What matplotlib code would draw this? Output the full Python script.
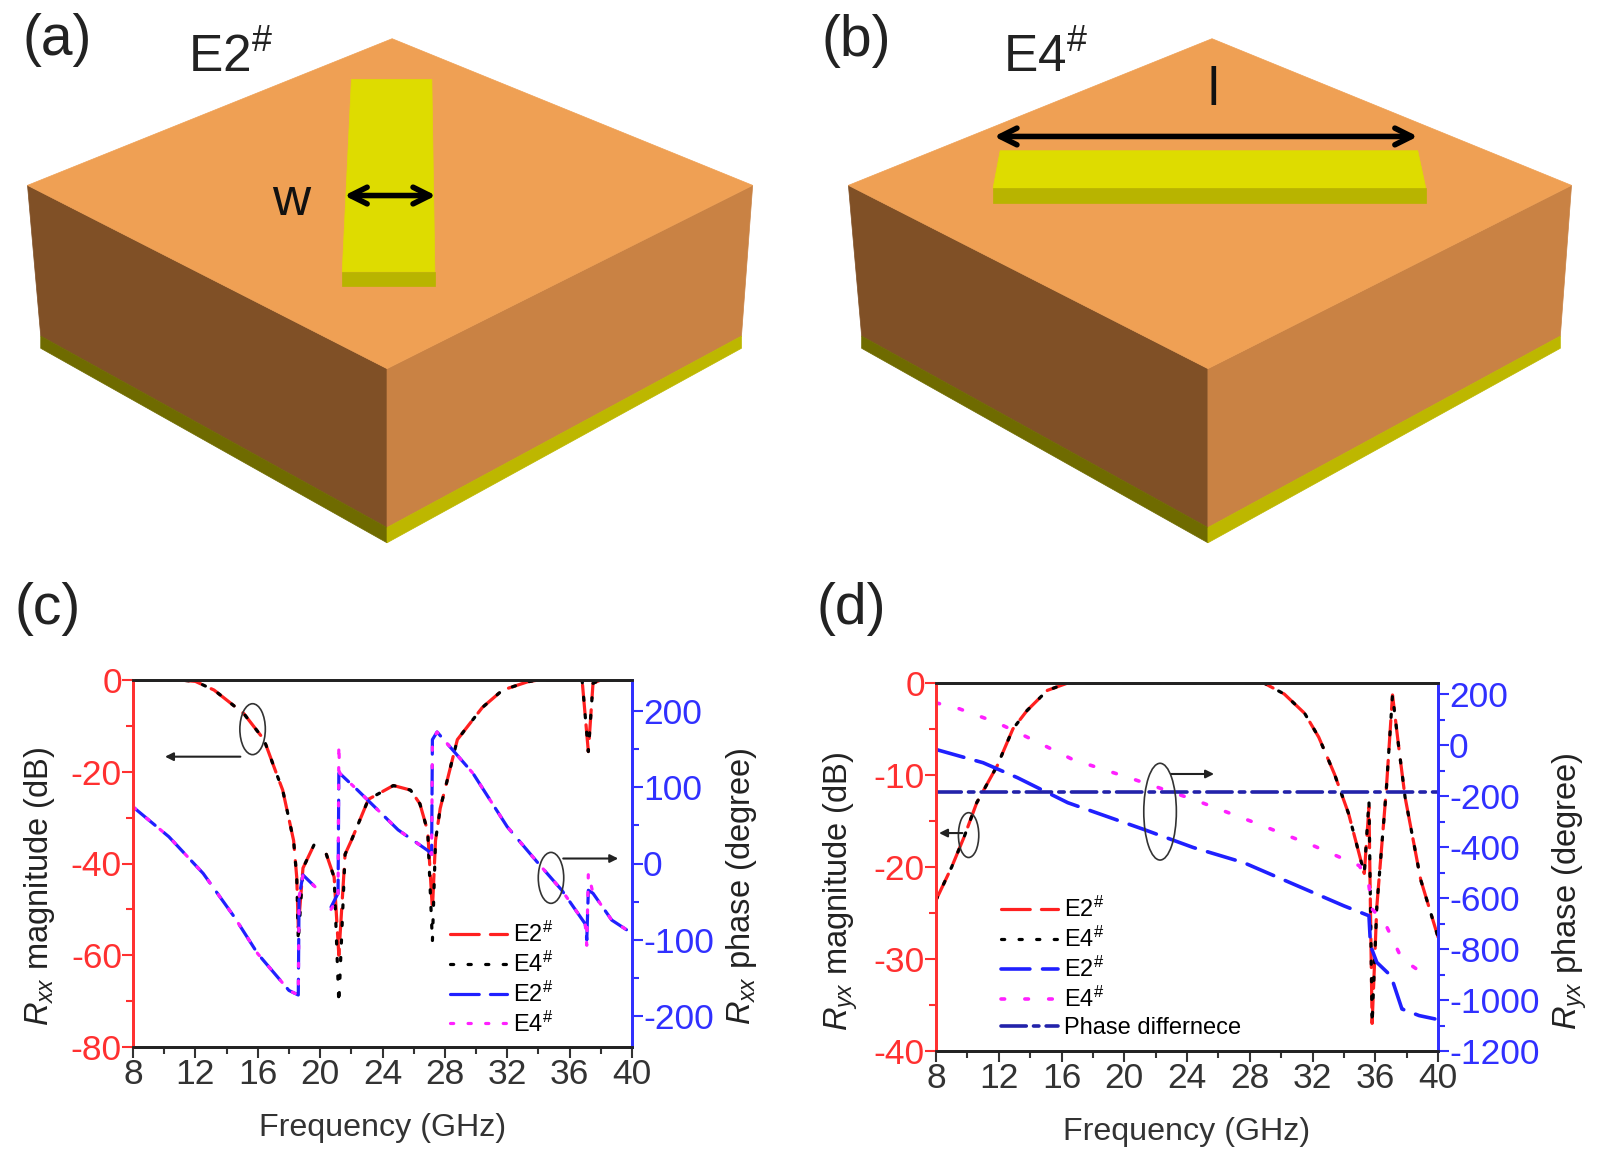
import numpy as np
import matplotlib
matplotlib.use('Agg')
import matplotlib.pyplot as plt
from matplotlib.patches import Polygon, Ellipse
from matplotlib.ticker import MultipleLocator

plt.rcParams['font.family'] = ['Liberation Sans', 'DejaVu Sans']
plt.rcParams['mathtext.fontset'] = 'custom'
plt.rcParams['mathtext.rm'] = 'Liberation Sans'
plt.rcParams['mathtext.it'] = 'Liberation Sans:italic'
plt.rcParams['mathtext.default'] = 'regular'
plt.rcParams['axes.unicode_minus'] = False
plt.rcParams['lines.dash_capstyle'] = 'round'

# panel (c), magnitude in dB
c_mag_freq = [8, 11, 12, 13.2, 15.1, 16.4, 17.2, 17.6, 18.3, 18.5, 18.6, 18.9, 19.6, np.nan, 20.4, 20.9, 21.2, 21.6,
              22, 23.1, 24.7, 25.8, 26.4, 26.9, 27.2, 27.4, 27.7, 28.8, 30.4, 31.7, 33.3, 34, 36.8, 37.2, 37.5, 38, 40]
c_mag_e2 = [0, 0, -0.3, -2.2, -7.3, -13, -20.4, -24, -35, -43, -54, -41, -36, np.nan, -38, -43, -60, -38,
            -35, -26, -23, -24, -27, -33, -50, -35, -28, -13, -6, -2.2, -0.4, 0, 0, -15.6, -0.7, 0, 0]
c_mag_e4 = [0, 0, -0.3, -2.2, -7.3, -13, -20.4, -24, -35, -43, -57, -41, -36, np.nan, -38, -43, -70.5, -38,
            -35, -26, -23, -24, -27, -33, -57, -35, -28, -13, -6, -2.2, -0.4, 0, 0, -15.6, -0.7, 0, 0]

# panel (c), phase in degree
c_ph_freq = [8, 10.3, 12.5, 14.5, 16, 18, 18.6, 18.65, 18.9, 19.9, np.nan, 20.7, 21.15, 21.2, 21.25, 22.4, 25, 26.9,
             27.15, 27.2, 27.5, 29.8, 32, 34, 35.5, 37, 37.1, 37.2, 37.5, 38.7, 39.9]
c_ph_e2 = [74, 35, -13, -70, -118, -166, -172, -44, -15, -35, np.nan, -57, -39, 118, 118, 96, 44, 17,
           12, 162, 172, 118, 48, 0, -35, -79, -100, -35, -39, -74, -90]
c_ph_e4 = [74, 35, -13, -70, -118, -166, -172, -44, -15, -35, np.nan, -60, -45, 155, 118, 96, 44, 17,
           12, 162, 172, 118, 48, 0, -35, -79, -107, -13, -39, -74, -90]

# panel (d), magnitude in dB
d_mag_freq = [8, 9, 9.8, 10.6, 11.9, 12.9, 13.8, 15.1, 16.4, 28.9, 30.2, 31.5, 32.4, 33.4, 34.3, 35.3, 35.6, 35.8,
              36.1, 36.7, 37.1, 37.5, 37.9, 38.9, 40]
d_mag_e2 = [-23.6, -20, -16.7, -13, -9, -5, -3, -0.8, 0, 0, -1.2, -3.3, -5.9, -9.9, -14.2, -20.7, -13.5, -37,
            -24.3, -11.7, -1.3, -7, -12.4, -21.4, -27.6]
d_mag_e4 = [-23.6, -20, -16.7, -13, -9, -5, -3, -0.8, 0, 0, -1.2, -3.3, -5.9, -9.9, -14.2, -20.7, -12.8, -37,
            -24.3, -11.7, -1.3, -7, -12.4, -21.4, -27.6]

# panel (d), phase in degree
d_e2_freq = [8, 11, 13.2, 16.4, 21.2, 24.4, 27.6, 30.8, 34, 35.6, 35.7, 36.1, 37, 37.7, 38.8, 39.8]
d_ph_e2 = [-16, -68, -127, -225, -329, -401, -460, -545, -630, -669, -787, -852, -905, -1035, -1061, -1074]
d_e4_freq = [8, 9.3, 11.9, 14.1, 16.7, 20.6, 24.4, 28.3, 32.1, 35, 35.6, 35.8, 36.6, 37.7, 38.8]
d_ph_e4 = [167, 148, 89, 24, -55, -133, -212, -303, -395, -473, -552, -643, -695, -839, -885]
d_diff_freq = [8, 40]
d_ph_diff = [-182, -182]

fig_w, fig_h = 1597, 1162
fig = plt.figure(figsize=(fig_w / 100, fig_h / 100), dpi=100)


def ax_rect(left, right, top, bottom):
    return [left / fig_w, 1 - bottom / fig_h, (right - left) / fig_w, (bottom - top) / fig_h]


def setup_axes(ax, axr, ymin, ymax, major, minor, rmin, rmax, rminor, ylab, rlab, rticks, lab_pos):
    tick_size = 25.5
    ax.set_xlim(8, 40)
    ax.set_ylim(ymin, ymax)
    axr.set_ylim(rmin, rmax)
    ax.xaxis.set_major_locator(MultipleLocator(4))
    ax.xaxis.set_minor_locator(MultipleLocator(2))
    ax.yaxis.set_major_locator(MultipleLocator(major))
    ax.yaxis.set_minor_locator(MultipleLocator(minor))
    axr.set_yticks(rticks)
    axr.yaxis.set_minor_locator(MultipleLocator(rminor))
    ax.tick_params(axis='x', which='major', length=8, width=1.5, labelsize=tick_size, colors='#333333', pad=0)
    ax.tick_params(axis='x', which='minor', length=5, width=1.5, colors='#333333')
    ax.tick_params(axis='y', which='major', length=8, width=1.5, labelsize=tick_size, colors='#ff3030', pad=0)
    ax.tick_params(axis='y', which='minor', length=5, width=1.5, colors='#ff3030')
    axr.tick_params(axis='y', which='major', length=8, width=1.5, labelsize=tick_size, colors='#3030ff', pad=0)
    axr.tick_params(axis='y', which='minor', length=5, width=1.5, colors='#3030ff')
    for a in (ax, axr):
        a.spines['left'].set_color('#ff3030')
        a.spines['right'].set_color('#3030ff')
        a.spines['top'].set_color('#222222')
        a.spines['bottom'].set_color('#222222')
        for s in a.spines.values():
            s.set_linewidth(2)
    ax.set_xlabel('Frequency (GHz)', fontsize=23.2, color='#333333', labelpad=16)
    ax.set_ylabel(ylab, fontsize=23.5, color='#222222', va='center')
    axr.set_ylabel(rlab, fontsize=23.5, color='#222222', va='center')
    ax.yaxis.set_label_coords(lab_pos[0], lab_pos[2])
    axr.yaxis.set_label_coords(lab_pos[1], lab_pos[2])


dash_long = (0, (9, 3.5))
dots = (0, (1, 4.5))
lw = 2.3

# panel (c)
ax_c = fig.add_axes(ax_rect(133, 632, 680, 1047))
ax_cr = ax_c.twinx()
setup_axes(ax_c, ax_cr, -80, 0, 20, 10, -240, 240, 50,
           '$\\mathit{R}_{\\mathit{xx}}$ magnitude (dB)', '$\\mathit{R}_{\\mathit{xx}}$ phase (degree)',
           [-200, -100, 0, 100, 200], (-0.187, 1.219, 0.439))
l1, = ax_c.plot(c_mag_freq, c_mag_e2, color='#ff2020', ls=dash_long, lw=lw, label='E2$^{\\#}$')
l2, = ax_c.plot(c_mag_freq, c_mag_e4, color='black', ls=dots, lw=lw, label='E4$^{\\#}$')
l3, = ax_cr.plot(c_ph_freq, c_ph_e2, color='#2020ff', ls=dash_long, lw=lw, label='E2$^{\\#}$')
l4, = ax_cr.plot(c_ph_freq, c_ph_e4, color='#ff20ff', ls=dots, lw=lw, label='E4$^{\\#}$')
ax_cr.legend(handles=[l1, l2, l3, l4], frameon=False, fontsize=17, loc='lower left',
             bbox_to_anchor=(0.636, 0.028), borderpad=0, borderaxespad=0,
             labelspacing=0.2, handlelength=2.4, handletextpad=0.25)

# panel (d)
ax_d = fig.add_axes(ax_rect(936, 1438, 683, 1051))
ax_dr = ax_d.twinx()
setup_axes(ax_d, ax_dr, -40, 0, 10, 5, -1200, 245, 100,
           '$\\mathit{R}_{\\mathit{yx}}$ magnitude (dB)', '$\\mathit{R}_{\\mathit{yx}}$ phase (degree)',
           [-1200, -1000, -800, -600, -400, -200, 0, 200], (-0.189, 1.262, 0.434))
m1, = ax_d.plot(d_mag_freq, d_mag_e2, color='#ff2020', ls=dash_long, lw=lw, label='E2$^{\\#}$')
m2, = ax_d.plot(d_mag_freq, d_mag_e4, color='black', ls=dots, lw=lw, label='E4$^{\\#}$')
m3, = ax_dr.plot(d_e2_freq, d_ph_e2, color='#2020ff', ls=(0, (8, 3.5)), lw=2.6, label='E2$^{\\#}$')
m4, = ax_dr.plot(d_e4_freq, d_ph_e4, color='#ff20ff', ls=(0, (1, 5.6)), lw=2.6, label='E4$^{\\#}$')
m5, = ax_dr.plot(d_diff_freq, d_ph_diff, color='#2222aa', ls=(0, (7, 2, 1.5, 2)), lw=2.6, label='Phase differnece')
ax_dr.legend(handles=[m1, m2, m3, m4, m5], frameon=False, fontsize=17, loc='lower left',
             bbox_to_anchor=(0.13, 0.033), borderpad=0, borderaxespad=0,
             labelspacing=0.2, handlelength=2.4, handletextpad=0.25)

# overlay for the schematics and annotations, in pixels of the shown picture
ov = fig.add_axes([0, 0, 1, 1], zorder=5)
ov.set_xlim(0, 1568)
ov.set_ylim(1141, 0)
ov.axis('off')
ov.patch.set_alpha(0)


def draw_block(top, left, front, right):
    tx, ty = top
    lx, ly = left
    fx, fy = front
    rx, ry = right
    faces = [
        ([(lx, ly), (fx, fy), (fx, 518), (lx + 13, 330)], '#805026'),
        ([(fx, fy), (rx, ry), (rx - 11, 330), (fx, 518)], '#c98244'),
        ([(lx + 13, 330), (fx, 518), (fx, 533), (lx + 13, 342)], '#6f6b00'),
        ([(fx, 518), (rx - 11, 330), (rx - 11, 342), (fx, 533)], '#bdb700'),
        ([(tx, ty), (lx, ly), (fx, fy), (rx, ry)], '#efa054'),
    ]
    for pts, col in faces:
        ov.add_patch(Polygon(pts, closed=True, fc=col, ec=col, lw=0.5))


draw_block((385, 38), (27, 182), (380, 362), (739, 182))
draw_block((1190, 38), (833, 182), (1186, 362), (1543, 182))

strip = '#dedc00'
strip_front = '#b8b400'
ov.add_patch(Polygon([(345, 78), (424, 78), (427, 267), (336, 267)], fc=strip, ec=strip, lw=0.5))
ov.add_patch(Polygon([(336, 267), (427, 267), (427, 281), (336, 281)], fc=strip_front, ec=strip_front, lw=0.5))
ov.add_patch(Polygon([(982, 148), (1392, 148), (1400, 185), (975, 185)], fc=strip, ec=strip, lw=0.5))
ov.add_patch(Polygon([(975, 185), (1400, 185), (1400, 199), (975, 199)], fc=strip_front, ec=strip_front, lw=0.5))


def arrow(x0, y0, x1, y1, style='-|>', lw=1.5, col='#222222', ms=12):
    ov.annotate('', xy=(x1, y1), xytext=(x0, y0),
                arrowprops=dict(arrowstyle=style, lw=lw, color=col, shrinkA=0, shrinkB=0, mutation_scale=ms))


arrow(338, 192, 428, 192, style='<->', lw=4, col='black', ms=30)
arrow(976, 134, 1392, 134, style='<->', lw=4, col='black', ms=30)
ov.text(286, 197, 'w', fontsize=38, ha='center', va='center', color='#111111')
ov.text(1191, 89, 'l', fontsize=38, ha='center', va='center', color='#111111')
ov.text(185, 57, 'E2$^{\\#}$', fontsize=37, ha='left', va='center', color='#222222')
ov.text(985, 57, 'E4$^{\\#}$', fontsize=37, ha='left', va='center', color='#222222')
for label, x, y in [('(a)', 56, 39), ('(b)', 841, 40), ('(c)', 47, 598), ('(d)', 836, 598)]:
    ov.text(x, y, label, fontsize=41, ha='center', va='center', color='#222222')

for cx, cy, w, h in [(248, 716, 25, 50), (541, 862, 25, 50), (951, 820, 20, 44), (1139, 797, 32, 95)]:
    ov.add_patch(Ellipse((cx, cy), w, h, fc='none', ec='#333333', lw=1.2))
arrow(236, 743, 162, 743)
arrow(553, 843, 607, 843)
arrow(945, 818, 922, 818)
arrow(1150, 760, 1192, 760)

fig.savefig('out.png', dpi=100)
